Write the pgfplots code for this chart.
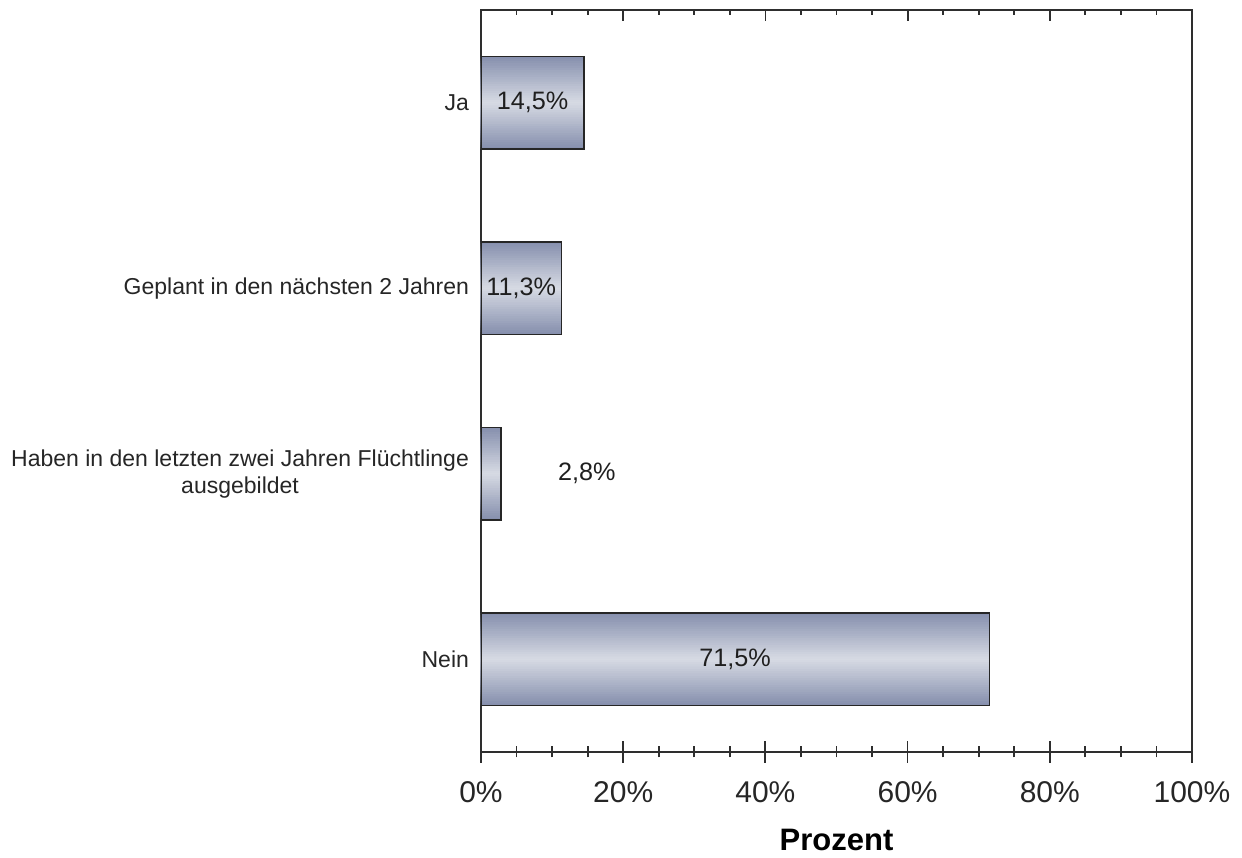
\documentclass[border=0pt]{standalone}
\usepackage{fontspec}
\setmainfont{Liberation Sans}
\usepackage{pgfplots}
\usepackage{pgfplotstable}
\pgfplotsset{compat=1.18}
\definecolor{barend}{HTML}{8790AE}
\definecolor{barmid}{HTML}{D8DCE5}
\definecolor{axcol}{HTML}{2E2E2E}
\pgfplotstableread{
x y
71.5 0
2.8 1
11.3 2
14.5 3
}\bardata
\begin{document}
\begin{tikzpicture}
\begin{axis}[
  name=ax,
  scale only axis,
  width=355.5pt, height=371pt,
  xmin=0, xmax=100, ymin=-0.5, ymax=3.5,
  axis line style={axcol, line width=0.9pt},
  xtick={0,20,40,60,80,100},
  minor x tick num=3,
  xtick pos=left,
  tick align=center,
  major tick length=11pt,
  minor tick length=5.5pt,
  every tick/.style={axcol, line width=0.9pt},
  xticklabel={\pgfmathprintnumber{\tick}\%},
  /pgf/number format/assume math mode=true,
  xticklabel style={font=\fontsize{15}{18}\selectfont, text=black!85, yshift=-5.5pt},
  xlabel={\textbf{Prozent}},
  xlabel style={font=\fontsize{15.5}{18}\selectfont, yshift=-6.8pt},
  ytick={0,1,2,3},
  yticklabels={Nein,{Haben in den letzten zwei Jahren Flüchtlinge\\ausgebildet},Geplant in den nächsten 2 Jahren,Ja},
  yticklabel style={font=\fontsize{11.5}{13.5}\selectfont, align=center, text=black!85, xshift=3pt},
  ytick style={draw=none},
  ]
  \pgfplotsinvokeforeach{0,5,...,100}{
    \addplot[xbar, bar width={0.5*(1-#1/101)}, draw=none, fill=barmid!#1!barend]
      table[x=x, y=y] {\bardata};
  }
  \addplot[xbar, bar width=0.5, draw=black!85, line width=0.8pt, fill=none]
    table[x=x, y=y] {\bardata};
  \addplot[draw=none, mark=none, nodes near coords, point meta=explicit symbolic,
    every node near coord/.append style={anchor=center, font=\fontsize{12.6}{15}\selectfont, text=black!88}]
    coordinates {(35.75,0) [71,5\%] (14.9,1) [2,8\%] (5.65,2) [11,3\%] (7.25,3) [14,5\%]};
\end{axis}
\begin{axis}[
  scale only axis,
  width=355.5pt, height=371pt,
  xmin=0, xmax=100, ymin=-0.5, ymax=3.5,
  axis line style={draw=none},
  xtick={0,20,40,60,80,100},
  minor x tick num=3,
  xtick pos=right,
  xticklabels={},
  ytick=\empty,
  tick align=inside,
  major tick length=5.5pt,
  minor tick length=2.6pt,
  every tick/.style={axcol, line width=0.9pt},
  ]
  \addplot[draw=none] coordinates {(0,0)};
\end{axis}
\pgfresetboundingbox
\path[use as bounding box] ([xshift=-240.5pt,yshift=-53pt]ax.south west) rectangle ([xshift=25pt,yshift=5pt]ax.north east);
\end{tikzpicture}
\end{document}
